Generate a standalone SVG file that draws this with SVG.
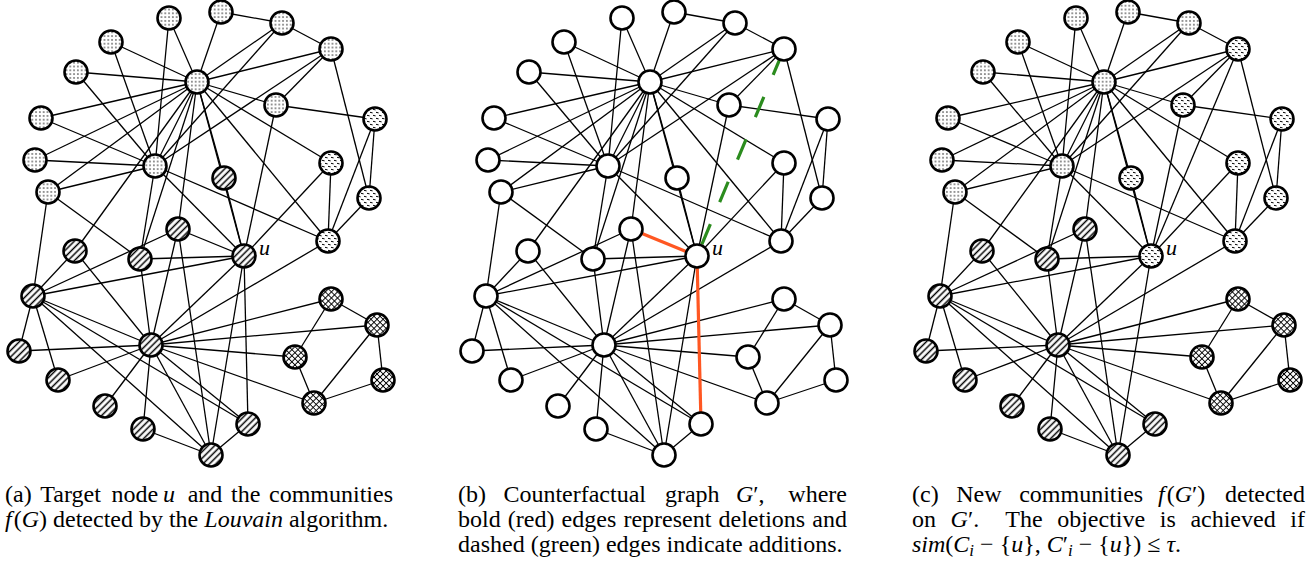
<svg xmlns="http://www.w3.org/2000/svg" width="1314" height="565" viewBox="0 0 1314 565">
<style>
.e line{stroke:#000;stroke-width:1.3}
.n circle{stroke:#000;stroke-width:2.6}
.dot{fill:url(#pDot)}
.dsh{fill:url(#pDash)}
.hat{fill:url(#pHatch)}
.crs{fill:url(#pCross)}
.wht{fill:#fff}
.e line.del{stroke:#ff5722;stroke-width:3.2}
.e line.add{stroke:#2b8c1e;stroke-width:3.2;stroke-dasharray:22 24;stroke-dashoffset:40}
text{font-family:"Liberation Serif","Times New Roman",serif;font-size:24px;fill:#000}
.it{font-style:italic}
.ul{font-size:22px;font-style:italic}
</style>
<defs>
<pattern id="pDot" patternUnits="userSpaceOnUse" width="3.8" height="3.8"><rect width="3.8" height="3.8" fill="#fff"/><circle cx="1.9" cy="1.9" r="0.75" fill="#000"/></pattern>
<pattern id="pDash" patternUnits="userSpaceOnUse" width="6" height="6"><rect width="6" height="6" fill="#fff"/><path d="M1 1.3L3.6 1.9M4 4.3L6.6 4.9M-2 4.3L0.6 4.9" stroke="#000" stroke-width="1"/></pattern>
<pattern id="pHatch" patternUnits="userSpaceOnUse" width="4.6" height="4.6" patternTransform="rotate(45)"><rect width="4.6" height="4.6" fill="#fff"/><line x1="2.3" y1="-1" x2="2.3" y2="5.6" stroke="#000" stroke-width="1.5"/></pattern>
<pattern id="pCross" patternUnits="userSpaceOnUse" width="4.3" height="4.3" patternTransform="rotate(45)"><rect width="4.3" height="4.3" fill="#fff"/><path d="M2.15 -1V5.3M-1 2.15H5.3" stroke="#000" stroke-width="1"/></pattern>
</defs>

<!-- ================= Panel (a) ================= -->
<g id="panel-a">
<g id="a-edges" class="e">
<line x1="197" y1="82" x2="169" y2="18"/><line x1="197" y1="82" x2="221" y2="12"/><line x1="197" y1="82" x2="282" y2="23"/><line x1="197" y1="82" x2="331" y2="49"/><line x1="197" y1="82" x2="111" y2="42"/><line x1="197" y1="82" x2="76" y2="72"/><line x1="197" y1="82" x2="41" y2="118"/><line x1="197" y1="82" x2="35" y2="160"/><line x1="197" y1="82" x2="48" y2="192"/><line x1="197" y1="82" x2="155" y2="166"/><line x1="197" y1="82" x2="276" y2="105"/><line x1="197" y1="82" x2="331" y2="163"/><line x1="197" y1="82" x2="328" y2="241"/><line x1="197" y1="82" x2="224" y2="178"/><line x1="197" y1="82" x2="178" y2="229"/><line x1="197" y1="82" x2="75" y2="251"/><line x1="197" y1="82" x2="140" y2="259"/><line x1="197" y1="82" x2="244" y2="256"/>
<line x1="155" y1="166" x2="169" y2="18"/><line x1="155" y1="166" x2="111" y2="42"/><line x1="155" y1="166" x2="76" y2="72"/><line x1="155" y1="166" x2="41" y2="118"/><line x1="155" y1="166" x2="35" y2="160"/><line x1="155" y1="166" x2="48" y2="192"/><line x1="155" y1="166" x2="282" y2="23"/><line x1="155" y1="166" x2="331" y2="49"/><line x1="155" y1="166" x2="140" y2="259"/><line x1="155" y1="166" x2="244" y2="256"/><line x1="155" y1="166" x2="328" y2="241"/>
<line x1="221" y1="12" x2="282" y2="23"/><line x1="282" y1="23" x2="331" y2="49"/><line x1="331" y1="49" x2="276" y2="105"/><line x1="331" y1="49" x2="369" y2="198"/><line x1="276" y1="105" x2="375" y2="119"/><line x1="276" y1="105" x2="244" y2="256"/><line x1="375" y1="119" x2="369" y2="198"/><line x1="375" y1="119" x2="328" y2="241"/><line x1="331" y1="163" x2="328" y2="241"/><line x1="369" y1="198" x2="328" y2="241"/><line x1="224" y1="178" x2="244" y2="256"/><line x1="331" y1="163" x2="244" y2="256"/>
<line x1="48" y1="192" x2="33" y2="296"/><line x1="48" y1="192" x2="140" y2="259"/><line x1="75" y1="251" x2="33" y2="296"/><line x1="75" y1="251" x2="151" y2="345"/>
<line x1="33" y1="296" x2="178" y2="229"/><line x1="33" y1="296" x2="244" y2="256"/><line x1="33" y1="296" x2="151" y2="345"/><line x1="33" y1="296" x2="211" y2="455"/><line x1="33" y1="296" x2="248" y2="424"/><line x1="33" y1="296" x2="19" y2="351"/><line x1="33" y1="296" x2="58" y2="380"/>
<line x1="151" y1="345" x2="19" y2="351"/><line x1="151" y1="345" x2="58" y2="380"/><line x1="151" y1="345" x2="105" y2="406"/><line x1="151" y1="345" x2="143" y2="429"/><line x1="151" y1="345" x2="211" y2="455"/><line x1="151" y1="345" x2="248" y2="424"/><line x1="151" y1="345" x2="295" y2="357"/><line x1="151" y1="345" x2="314" y2="403"/><line x1="151" y1="345" x2="331" y2="299"/><line x1="151" y1="345" x2="377" y2="325"/><line x1="151" y1="345" x2="244" y2="256"/><line x1="151" y1="345" x2="328" y2="241"/><line x1="151" y1="345" x2="140" y2="259"/><line x1="151" y1="345" x2="178" y2="229"/>
<line x1="244" y1="256" x2="140" y2="259"/><line x1="244" y1="256" x2="211" y2="455"/><line x1="178" y1="229" x2="211" y2="455"/><line x1="143" y1="429" x2="211" y2="455"/><line x1="211" y1="455" x2="248" y2="424"/>
<line x1="331" y1="299" x2="377" y2="325"/><line x1="331" y1="299" x2="295" y2="357"/><line x1="377" y1="325" x2="383" y2="380"/><line x1="377" y1="325" x2="314" y2="403"/><line x1="295" y1="357" x2="314" y2="403"/><line x1="383" y1="380" x2="314" y2="403"/>
<line x1="244" y1="256" x2="178" y2="229"/><line x1="244" y1="256" x2="248" y2="424"/>
</g>
<g id="a-n1" class="n"><circle cx="169" cy="18" r="11.5" class="dot"/></g>
<g id="a-n2" class="n"><circle cx="221" cy="12" r="11.5" class="dot"/></g>
<g id="a-n3" class="n"><circle cx="282" cy="23" r="11.5" class="dot"/></g>
<g id="a-n4" class="n"><circle cx="331" cy="49" r="11.5" class="dot"/></g>
<g id="a-n5" class="n"><circle cx="111" cy="42" r="11.5" class="dot"/></g>
<g id="a-n6" class="n"><circle cx="76" cy="72" r="11.5" class="dot"/></g>
<g id="a-hubA" class="n"><circle cx="197" cy="82" r="11.5" class="dot"/></g>
<g id="a-n8" class="n"><circle cx="276" cy="105" r="11.5" class="dot"/></g>
<g id="a-n9" class="n"><circle cx="375" cy="119" r="11.5" class="dsh"/></g>
<g id="a-n10" class="n"><circle cx="41" cy="118" r="11.5" class="dot"/></g>
<g id="a-n11" class="n"><circle cx="35" cy="160" r="11.5" class="dot"/></g>
<g id="a-hubB" class="n"><circle cx="155" cy="166" r="11.5" class="dot"/></g>
<g id="a-n13" class="n"><circle cx="224" cy="178" r="11.5" class="hat"/></g>
<g id="a-n14" class="n"><circle cx="331" cy="163" r="11.5" class="dsh"/></g>
<g id="a-n15" class="n"><circle cx="48" cy="192" r="11.5" class="dot"/></g>
<g id="a-n16" class="n"><circle cx="369" cy="198" r="11.5" class="dsh"/></g>
<g id="a-n17" class="n"><circle cx="178" cy="229" r="11.5" class="hat"/></g>
<g id="a-n18" class="n"><circle cx="328" cy="241" r="11.5" class="dsh"/></g>
<g id="a-n19" class="n"><circle cx="75" cy="251" r="11.5" class="hat"/></g>
<g id="a-n20" class="n"><circle cx="140" cy="259" r="11.5" class="hat"/></g>
<g id="a-u" class="n"><circle cx="244" cy="256" r="11.5" class="hat"/><text x="259" y="255" class="ul">u</text></g>
<g id="a-hubC" class="n"><circle cx="33" cy="296" r="11.5" class="hat"/></g>
<g id="a-n24" class="n"><circle cx="19" cy="351" r="11.5" class="hat"/></g>
<g id="a-n25" class="n"><circle cx="58" cy="380" r="11.5" class="hat"/></g>
<g id="a-hubD" class="n"><circle cx="151" cy="345" r="11.5" class="hat"/></g>
<g id="a-n27" class="n"><circle cx="105" cy="406" r="11.5" class="hat"/></g>
<g id="a-n28" class="n"><circle cx="143" cy="429" r="11.5" class="hat"/></g>
<g id="a-n29" class="n"><circle cx="211" cy="455" r="11.5" class="hat"/></g>
<g id="a-n30" class="n"><circle cx="248" cy="424" r="11.5" class="hat"/></g>
<g id="a-n31" class="n"><circle cx="331" cy="299" r="11.5" class="crs"/></g>
<g id="a-n32" class="n"><circle cx="377" cy="325" r="11.5" class="crs"/></g>
<g id="a-n33" class="n"><circle cx="295" cy="357" r="11.5" class="crs"/></g>
<g id="a-n34" class="n"><circle cx="383" cy="380" r="11.5" class="crs"/></g>
<g id="a-n35" class="n"><circle cx="314" cy="403" r="11.5" class="crs"/></g>
</g>

<!-- ================= Panel (b) ================= -->
<g id="panel-b" transform="translate(453,0)">
<g id="b-edges" class="e">
<line x1="197" y1="82" x2="169" y2="18"/><line x1="197" y1="82" x2="221" y2="12"/><line x1="197" y1="82" x2="282" y2="23"/><line x1="197" y1="82" x2="331" y2="49"/><line x1="197" y1="82" x2="111" y2="42"/><line x1="197" y1="82" x2="76" y2="72"/><line x1="197" y1="82" x2="41" y2="118"/><line x1="197" y1="82" x2="35" y2="160"/><line x1="197" y1="82" x2="48" y2="192"/><line x1="197" y1="82" x2="155" y2="166"/><line x1="197" y1="82" x2="276" y2="105"/><line x1="197" y1="82" x2="331" y2="163"/><line x1="197" y1="82" x2="328" y2="241"/><line x1="197" y1="82" x2="224" y2="178"/><line x1="197" y1="82" x2="178" y2="229"/><line x1="197" y1="82" x2="75" y2="251"/><line x1="197" y1="82" x2="140" y2="259"/><line x1="197" y1="82" x2="244" y2="256"/>
<line x1="155" y1="166" x2="169" y2="18"/><line x1="155" y1="166" x2="111" y2="42"/><line x1="155" y1="166" x2="76" y2="72"/><line x1="155" y1="166" x2="41" y2="118"/><line x1="155" y1="166" x2="35" y2="160"/><line x1="155" y1="166" x2="48" y2="192"/><line x1="155" y1="166" x2="282" y2="23"/><line x1="155" y1="166" x2="331" y2="49"/><line x1="155" y1="166" x2="140" y2="259"/><line x1="155" y1="166" x2="244" y2="256"/><line x1="155" y1="166" x2="328" y2="241"/>
<line x1="221" y1="12" x2="282" y2="23"/><line x1="282" y1="23" x2="331" y2="49"/><line x1="331" y1="49" x2="276" y2="105"/><line x1="331" y1="49" x2="369" y2="198"/><line x1="276" y1="105" x2="375" y2="119"/><line x1="276" y1="105" x2="244" y2="256"/><line x1="375" y1="119" x2="369" y2="198"/><line x1="375" y1="119" x2="328" y2="241"/><line x1="331" y1="163" x2="328" y2="241"/><line x1="369" y1="198" x2="328" y2="241"/><line x1="224" y1="178" x2="244" y2="256"/><line x1="331" y1="163" x2="244" y2="256"/>
<line x1="48" y1="192" x2="33" y2="296"/><line x1="48" y1="192" x2="140" y2="259"/><line x1="75" y1="251" x2="33" y2="296"/><line x1="75" y1="251" x2="151" y2="345"/>
<line x1="33" y1="296" x2="178" y2="229"/><line x1="33" y1="296" x2="244" y2="256"/><line x1="33" y1="296" x2="151" y2="345"/><line x1="33" y1="296" x2="211" y2="455"/><line x1="33" y1="296" x2="248" y2="424"/><line x1="33" y1="296" x2="19" y2="351"/><line x1="33" y1="296" x2="58" y2="380"/>
<line x1="151" y1="345" x2="19" y2="351"/><line x1="151" y1="345" x2="58" y2="380"/><line x1="151" y1="345" x2="105" y2="406"/><line x1="151" y1="345" x2="143" y2="429"/><line x1="151" y1="345" x2="211" y2="455"/><line x1="151" y1="345" x2="248" y2="424"/><line x1="151" y1="345" x2="295" y2="357"/><line x1="151" y1="345" x2="314" y2="403"/><line x1="151" y1="345" x2="331" y2="299"/><line x1="151" y1="345" x2="377" y2="325"/><line x1="151" y1="345" x2="244" y2="256"/><line x1="151" y1="345" x2="328" y2="241"/><line x1="151" y1="345" x2="140" y2="259"/><line x1="151" y1="345" x2="178" y2="229"/>
<line x1="244" y1="256" x2="140" y2="259"/><line x1="244" y1="256" x2="211" y2="455"/><line x1="178" y1="229" x2="211" y2="455"/><line x1="143" y1="429" x2="211" y2="455"/><line x1="211" y1="455" x2="248" y2="424"/>
<line x1="331" y1="299" x2="377" y2="325"/><line x1="331" y1="299" x2="295" y2="357"/><line x1="377" y1="325" x2="383" y2="380"/><line x1="377" y1="325" x2="314" y2="403"/><line x1="295" y1="357" x2="314" y2="403"/><line x1="383" y1="380" x2="314" y2="403"/>
<line x1="244" y1="256" x2="178" y2="229" class="del"/><line x1="244" y1="256" x2="248" y2="424" class="del"/>
<line x1="331" y1="49" x2="244" y2="256" class="add"/>
</g>
<g id="b-n1" class="n"><circle cx="169" cy="18" r="11.5" class="wht"/></g>
<g id="b-n2" class="n"><circle cx="221" cy="12" r="11.5" class="wht"/></g>
<g id="b-n3" class="n"><circle cx="282" cy="23" r="11.5" class="wht"/></g>
<g id="b-n4" class="n"><circle cx="331" cy="49" r="11.5" class="wht"/></g>
<g id="b-n5" class="n"><circle cx="111" cy="42" r="11.5" class="wht"/></g>
<g id="b-n6" class="n"><circle cx="76" cy="72" r="11.5" class="wht"/></g>
<g id="b-hubA" class="n"><circle cx="197" cy="82" r="11.5" class="wht"/></g>
<g id="b-n8" class="n"><circle cx="276" cy="105" r="11.5" class="wht"/></g>
<g id="b-n9" class="n"><circle cx="375" cy="119" r="11.5" class="wht"/></g>
<g id="b-n10" class="n"><circle cx="41" cy="118" r="11.5" class="wht"/></g>
<g id="b-n11" class="n"><circle cx="35" cy="160" r="11.5" class="wht"/></g>
<g id="b-hubB" class="n"><circle cx="155" cy="166" r="11.5" class="wht"/></g>
<g id="b-n13" class="n"><circle cx="224" cy="178" r="11.5" class="wht"/></g>
<g id="b-n14" class="n"><circle cx="331" cy="163" r="11.5" class="wht"/></g>
<g id="b-n15" class="n"><circle cx="48" cy="192" r="11.5" class="wht"/></g>
<g id="b-n16" class="n"><circle cx="369" cy="198" r="11.5" class="wht"/></g>
<g id="b-n17" class="n"><circle cx="178" cy="229" r="11.5" class="wht"/></g>
<g id="b-n18" class="n"><circle cx="328" cy="241" r="11.5" class="wht"/></g>
<g id="b-n19" class="n"><circle cx="75" cy="251" r="11.5" class="wht"/></g>
<g id="b-n20" class="n"><circle cx="140" cy="259" r="11.5" class="wht"/></g>
<g id="b-u" class="n"><circle cx="244" cy="256" r="11.5" class="wht"/><text x="259" y="255" class="ul">u</text></g>
<g id="b-hubC" class="n"><circle cx="33" cy="296" r="11.5" class="wht"/></g>
<g id="b-n24" class="n"><circle cx="19" cy="351" r="11.5" class="wht"/></g>
<g id="b-n25" class="n"><circle cx="58" cy="380" r="11.5" class="wht"/></g>
<g id="b-hubD" class="n"><circle cx="151" cy="345" r="11.5" class="wht"/></g>
<g id="b-n27" class="n"><circle cx="105" cy="406" r="11.5" class="wht"/></g>
<g id="b-n28" class="n"><circle cx="143" cy="429" r="11.5" class="wht"/></g>
<g id="b-n29" class="n"><circle cx="211" cy="455" r="11.5" class="wht"/></g>
<g id="b-n30" class="n"><circle cx="248" cy="424" r="11.5" class="wht"/></g>
<g id="b-n31" class="n"><circle cx="331" cy="299" r="11.5" class="wht"/></g>
<g id="b-n32" class="n"><circle cx="377" cy="325" r="11.5" class="wht"/></g>
<g id="b-n33" class="n"><circle cx="295" cy="357" r="11.5" class="wht"/></g>
<g id="b-n34" class="n"><circle cx="383" cy="380" r="11.5" class="wht"/></g>
<g id="b-n35" class="n"><circle cx="314" cy="403" r="11.5" class="wht"/></g>
</g>

<!-- ================= Panel (c) ================= -->
<g id="panel-c" transform="translate(907,0)">
<g id="c-edges" class="e">
<line x1="197" y1="82" x2="169" y2="18"/><line x1="197" y1="82" x2="221" y2="12"/><line x1="197" y1="82" x2="282" y2="23"/><line x1="197" y1="82" x2="331" y2="49"/><line x1="197" y1="82" x2="111" y2="42"/><line x1="197" y1="82" x2="76" y2="72"/><line x1="197" y1="82" x2="41" y2="118"/><line x1="197" y1="82" x2="35" y2="160"/><line x1="197" y1="82" x2="48" y2="192"/><line x1="197" y1="82" x2="155" y2="166"/><line x1="197" y1="82" x2="276" y2="105"/><line x1="197" y1="82" x2="331" y2="163"/><line x1="197" y1="82" x2="328" y2="241"/><line x1="197" y1="82" x2="224" y2="178"/><line x1="197" y1="82" x2="178" y2="229"/><line x1="197" y1="82" x2="75" y2="251"/><line x1="197" y1="82" x2="140" y2="259"/><line x1="197" y1="82" x2="244" y2="256"/>
<line x1="155" y1="166" x2="169" y2="18"/><line x1="155" y1="166" x2="111" y2="42"/><line x1="155" y1="166" x2="76" y2="72"/><line x1="155" y1="166" x2="41" y2="118"/><line x1="155" y1="166" x2="35" y2="160"/><line x1="155" y1="166" x2="48" y2="192"/><line x1="155" y1="166" x2="282" y2="23"/><line x1="155" y1="166" x2="331" y2="49"/><line x1="155" y1="166" x2="140" y2="259"/><line x1="155" y1="166" x2="244" y2="256"/><line x1="155" y1="166" x2="328" y2="241"/>
<line x1="221" y1="12" x2="282" y2="23"/><line x1="282" y1="23" x2="331" y2="49"/><line x1="331" y1="49" x2="276" y2="105"/><line x1="331" y1="49" x2="369" y2="198"/><line x1="276" y1="105" x2="375" y2="119"/><line x1="276" y1="105" x2="244" y2="256"/><line x1="375" y1="119" x2="369" y2="198"/><line x1="375" y1="119" x2="328" y2="241"/><line x1="331" y1="163" x2="328" y2="241"/><line x1="369" y1="198" x2="328" y2="241"/><line x1="224" y1="178" x2="244" y2="256"/><line x1="331" y1="163" x2="244" y2="256"/>
<line x1="48" y1="192" x2="33" y2="296"/><line x1="48" y1="192" x2="140" y2="259"/><line x1="75" y1="251" x2="33" y2="296"/><line x1="75" y1="251" x2="151" y2="345"/>
<line x1="33" y1="296" x2="178" y2="229"/><line x1="33" y1="296" x2="244" y2="256"/><line x1="33" y1="296" x2="151" y2="345"/><line x1="33" y1="296" x2="211" y2="455"/><line x1="33" y1="296" x2="248" y2="424"/><line x1="33" y1="296" x2="19" y2="351"/><line x1="33" y1="296" x2="58" y2="380"/>
<line x1="151" y1="345" x2="19" y2="351"/><line x1="151" y1="345" x2="58" y2="380"/><line x1="151" y1="345" x2="105" y2="406"/><line x1="151" y1="345" x2="143" y2="429"/><line x1="151" y1="345" x2="211" y2="455"/><line x1="151" y1="345" x2="248" y2="424"/><line x1="151" y1="345" x2="295" y2="357"/><line x1="151" y1="345" x2="314" y2="403"/><line x1="151" y1="345" x2="331" y2="299"/><line x1="151" y1="345" x2="377" y2="325"/><line x1="151" y1="345" x2="244" y2="256"/><line x1="151" y1="345" x2="328" y2="241"/><line x1="151" y1="345" x2="140" y2="259"/><line x1="151" y1="345" x2="178" y2="229"/>
<line x1="244" y1="256" x2="140" y2="259"/><line x1="244" y1="256" x2="211" y2="455"/><line x1="178" y1="229" x2="211" y2="455"/><line x1="143" y1="429" x2="211" y2="455"/><line x1="211" y1="455" x2="248" y2="424"/>
<line x1="331" y1="299" x2="377" y2="325"/><line x1="331" y1="299" x2="295" y2="357"/><line x1="377" y1="325" x2="383" y2="380"/><line x1="377" y1="325" x2="314" y2="403"/><line x1="295" y1="357" x2="314" y2="403"/><line x1="383" y1="380" x2="314" y2="403"/>
<line x1="331" y1="49" x2="244" y2="256"/>
</g>
<g id="c-n1" class="n"><circle cx="169" cy="18" r="11.5" class="dot"/></g>
<g id="c-n2" class="n"><circle cx="221" cy="12" r="11.5" class="dot"/></g>
<g id="c-n3" class="n"><circle cx="282" cy="23" r="11.5" class="dot"/></g>
<g id="c-n4" class="n"><circle cx="331" cy="49" r="11.5" class="dsh"/></g>
<g id="c-n5" class="n"><circle cx="111" cy="42" r="11.5" class="dot"/></g>
<g id="c-n6" class="n"><circle cx="76" cy="72" r="11.5" class="dot"/></g>
<g id="c-hubA" class="n"><circle cx="197" cy="82" r="11.5" class="dot"/></g>
<g id="c-n8" class="n"><circle cx="276" cy="105" r="11.5" class="dsh"/></g>
<g id="c-n9" class="n"><circle cx="375" cy="119" r="11.5" class="dsh"/></g>
<g id="c-n10" class="n"><circle cx="41" cy="118" r="11.5" class="dot"/></g>
<g id="c-n11" class="n"><circle cx="35" cy="160" r="11.5" class="dot"/></g>
<g id="c-hubB" class="n"><circle cx="155" cy="166" r="11.5" class="dot"/></g>
<g id="c-n13" class="n"><circle cx="224" cy="178" r="11.5" class="dsh"/></g>
<g id="c-n14" class="n"><circle cx="331" cy="163" r="11.5" class="dsh"/></g>
<g id="c-n15" class="n"><circle cx="48" cy="192" r="11.5" class="dot"/></g>
<g id="c-n16" class="n"><circle cx="369" cy="198" r="11.5" class="dsh"/></g>
<g id="c-n17" class="n"><circle cx="178" cy="229" r="11.5" class="hat"/></g>
<g id="c-n18" class="n"><circle cx="328" cy="241" r="11.5" class="dsh"/></g>
<g id="c-n19" class="n"><circle cx="75" cy="251" r="11.5" class="hat"/></g>
<g id="c-n20" class="n"><circle cx="140" cy="259" r="11.5" class="hat"/></g>
<g id="c-u" class="n"><circle cx="244" cy="256" r="11.5" class="dsh"/><text x="259" y="255" class="ul">u</text></g>
<g id="c-hubC" class="n"><circle cx="33" cy="296" r="11.5" class="hat"/></g>
<g id="c-n24" class="n"><circle cx="19" cy="351" r="11.5" class="hat"/></g>
<g id="c-n25" class="n"><circle cx="58" cy="380" r="11.5" class="hat"/></g>
<g id="c-hubD" class="n"><circle cx="151" cy="345" r="11.5" class="hat"/></g>
<g id="c-n27" class="n"><circle cx="105" cy="406" r="11.5" class="hat"/></g>
<g id="c-n28" class="n"><circle cx="143" cy="429" r="11.5" class="hat"/></g>
<g id="c-n29" class="n"><circle cx="211" cy="455" r="11.5" class="hat"/></g>
<g id="c-n30" class="n"><circle cx="248" cy="424" r="11.5" class="hat"/></g>
<g id="c-n31" class="n"><circle cx="331" cy="299" r="11.5" class="crs"/></g>
<g id="c-n32" class="n"><circle cx="377" cy="325" r="11.5" class="crs"/></g>
<g id="c-n33" class="n"><circle cx="295" cy="357" r="11.5" class="crs"/></g>
<g id="c-n34" class="n"><circle cx="383" cy="380" r="11.5" class="crs"/></g>
<g id="c-n35" class="n"><circle cx="314" cy="403" r="11.5" class="crs"/></g>
</g>

<!-- ================= Captions ================= -->
<g id="captions">
<text y="502"><tspan x="5">(a)</tspan><tspan x="40.3">Target</tspan><tspan x="111.6">node</tspan><tspan x="163" class="it">u</tspan><tspan x="187.7">and</tspan><tspan x="231">the</tspan><tspan x="269">communities</tspan></text>
<text x="5" y="527"><tspan class="it">f</tspan><tspan dx="2">(</tspan><tspan class="it">G</tspan>) detected by the <tspan class="it">Louvain</tspan> algorithm.</text>

<text y="502"><tspan x="458">(b)</tspan><tspan x="503.4">Counterfactual</tspan><tspan x="664.9">graph</tspan><tspan x="736" class="it">G</tspan>′,</text>
<text y="502" x="847" text-anchor="end">where</text>
<text y="527"><tspan x="458">bold</tspan><tspan x="507.8">(red)</tspan><tspan x="561.6">edges</tspan><tspan x="623.4">represent</tspan><tspan x="718.5">deletions</tspan></text>
<text y="527" x="847" text-anchor="end">and</text>
<text x="458" y="552">dashed (green) edges indicate additions.</text>

<text y="502"><tspan x="912">(c)</tspan><tspan x="956.2">New</tspan><tspan x="1019.2">communities</tspan><tspan x="1158" class="it">f</tspan><tspan dx="2">(</tspan><tspan class="it">G</tspan>′)</text>
<text y="502" x="1305" text-anchor="end">detected</text>
<text y="527"><tspan x="912">on</tspan><tspan x="950.6" class="it">G</tspan>′.<tspan x="1005.3">The</tspan><tspan x="1057.2">objective</tspan><tspan x="1159.8">is</tspan><tspan x="1190.4">achieved</tspan></text>
<text y="527" x="1305" text-anchor="end">if</text>
<text x="912" y="552"><tspan class="it">sim</tspan>(<tspan class="it">C</tspan><tspan class="it" font-size="17" dy="4">i</tspan><tspan dy="-4"> − {</tspan><tspan class="it">u</tspan>}, <tspan class="it">C</tspan>′<tspan class="it" font-size="17" dy="4">i</tspan><tspan dy="-4"> − {</tspan><tspan class="it">u</tspan>}) ≤ <tspan class="it">τ</tspan>.</text>
</g>
</svg>
